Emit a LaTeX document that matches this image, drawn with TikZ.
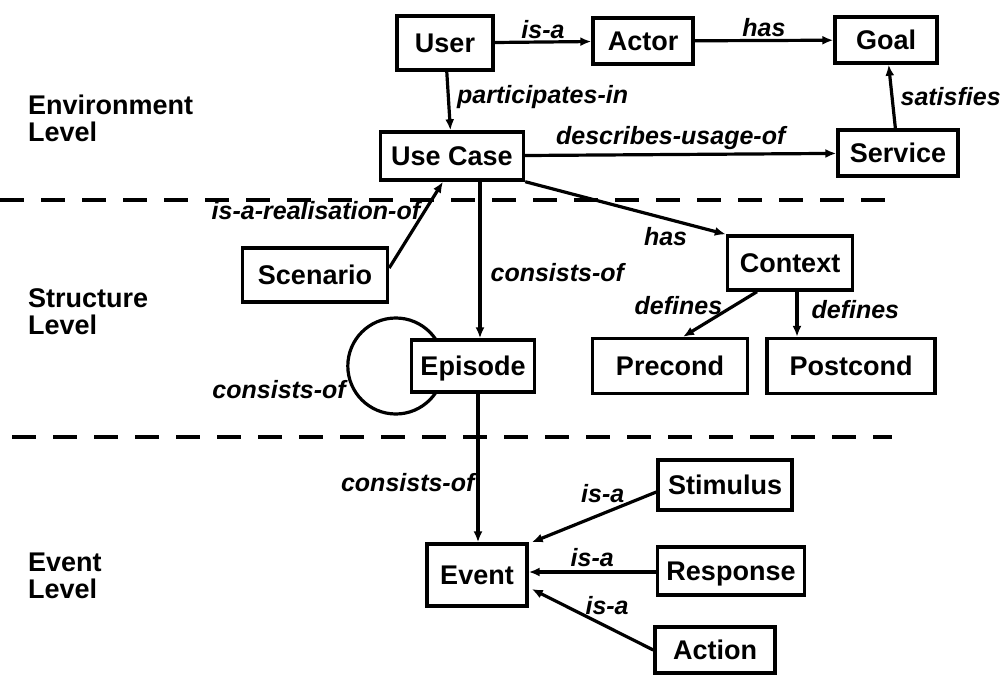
\documentclass[tikz,border=0pt]{standalone}
\usepackage{fontspec}
\setmainfont{Liberation Sans}
\usetikzlibrary{arrows.meta,calc,backgrounds}
\begin{document}
\begin{tikzpicture}[x=1pt,y=-1pt,
 box/.style={draw,line width=3.4pt,fill=white,font=\bfseries\fontsize{27}{29}\selectfont,inner sep=0pt,minimum height=48pt,text height=21pt,text depth=2pt},
 lbl/.style={font=\bfseries\itshape\fontsize{25}{27}\selectfont,inner sep=1pt},
 lvl/.style={font=\bfseries\fontsize{27}{27}\selectfont,align=left,anchor=north west,inner sep=0pt},
 arr/.style={line width=3.2pt,-{Latex[length=11pt,width=9pt]}},
 sep/.style={line width=3.4pt,dash pattern=on 24pt off 17pt}]
\useasboundingbox (0,0) rectangle (1008,674);

% level labels
\node[lvl] (envl) at (28,95) {Environment\\Level};
\node[lvl] (strl) at (28,288) {Structure\\Level};
\node[lvl] (evl) at (28,553) {Event\\Level};

% separators
\coordinate (s1a) at (0,200);
\coordinate (s1b) at (892,200);
\coordinate (s2a) at (12,437);
\coordinate (s2b) at (892,437);
\draw[sep] (s1a) -- (s1b);
\draw[sep] (s2a) -- (s2b);

% nodes
\node[box,minimum width=96pt,minimum height=54pt] (user) at (445,43) {User};
\node[box,minimum width=100pt,minimum height=46pt] (actor) at (643,41) {Actor};
\node[box,minimum width=102pt,minimum height=46pt] (goal) at (886,40) {Goal};
\node[box,minimum width=143pt] (uc) at (452,156) {Use Case};
\node[box,minimum width=120pt,minimum height=46pt] (serv) at (898,153) {Service};
\node[box,minimum width=145pt,minimum height=54pt] (sc) at (315,275) {Scenario};
\node[box,minimum width=125pt,minimum height=54pt] (ctx) at (790,263) {Context};
\node[box,minimum width=123pt,minimum height=52pt] (ep) at (473,366) {Episode};
\node[box,minimum width=155pt,minimum height=55pt] (pre) at (670,366) {Precond};
\node[box,minimum width=168pt,minimum height=55pt] (post) at (851,366) {Postcond};
\node[box,minimum width=100pt,minimum height=62pt] (ev) at (477,575) {Event};
\node[box,minimum width=134pt,minimum height=50pt] (stim) at (725,485) {Stimulus};
\node[box,minimum width=147pt] (resp) at (731,571) {Response};
\node[box,minimum width=120pt,minimum height=46pt] (act) at (715,650) {Action};

% self loop behind Episode
\begin{scope}[on background layer]
\draw[line width=3.2pt] ([xshift=-14pt]ep.west) circle[radius=48pt];
\end{scope}
\node[lbl,anchor=east] (loopl) at (347,390) {consists-of};

% connectors
\draw[arr] (user) -- node[lbl,above=1pt] {is-a} (actor);
\draw[arr] (actor) -- node[lbl,above=1pt] {has} (goal);
\draw[arr] (user) -- node[lbl,right=6pt,yshift=4pt] {participates-in} (uc);
\draw[arr] (uc) -- node[lbl,above=2pt,xshift=-10pt] {describes-usage-of} (serv);
\draw[arr] (serv) -- node[lbl,right=6pt] {satisfies} (goal);
\draw[arr] ([yshift=7pt]sc.east) -- node[lbl,pos=0.66,anchor=east,xshift=-2pt] {is-a-realisation-of} ([xshift=-9pt]uc.south);
\draw[arr] ([xshift=28pt]uc.south) -- node[lbl,pos=0.58,right=8pt] {consists-of} ([xshift=28pt]uc.south |- ep.north);
\draw[arr] (uc.south east) -- node[lbl,pos=0.82,anchor=north east] {has} (ctx.north west);
\draw[arr] ([xshift=-33pt]ctx.south) -- node[lbl,pos=0.3,anchor=east,xshift=-10pt] {defines} ([xshift=13pt]pre.north);
\draw[arr] ([xshift=7pt]ctx.south) -- node[lbl,pos=0.4,right=12pt] {defines} ([xshift=7pt]ctx.south |- post.north);
\draw[arr] ([xshift=5pt]ep.south) -- node[lbl,pos=0.6,left=1pt] {consists-of} ([xshift=5pt]ep.south |- ev.north);
\draw[arr] ([yshift=-7pt]stim.west) -- node[lbl,pos=0.43,above=8pt] {is-a} ([xshift=3pt]ev.north east);
\draw[arr] ([yshift=-1pt]resp.west) -- node[lbl,above=3pt] {is-a} ([yshift=-1pt]resp.west -| ev.east);
\draw[arr] (act.west) -- node[lbl,pos=0.38,above=9pt] {is-a} ([xshift=3pt,yshift=-14pt]ev.east);
\end{tikzpicture}
\end{document}
